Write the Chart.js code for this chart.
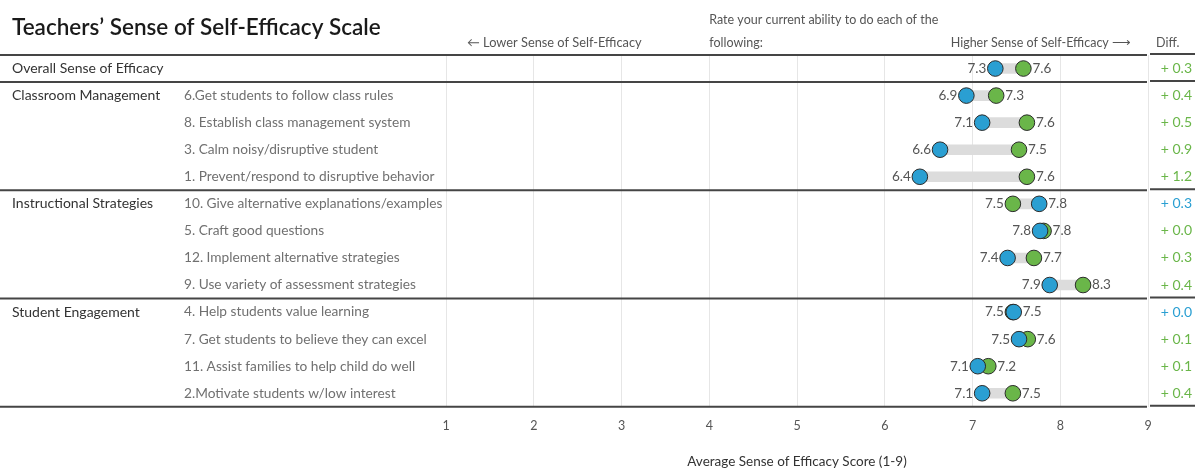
<!DOCTYPE html>
<html>
<head>
<meta charset="utf-8">
<script src="https://cdn.jsdelivr.net/npm/chart.js@4"></script>
<style>
  html, body { margin: 0; padding: 0; background: #fff; }
  #wrap { width: 1195px; height: 470px; position: relative; }
</style>
</head>
<body>
<div id="wrap"><canvas id="c" width="1195" height="470"></canvas></div>
<script>
// ---------- DATA ----------
const rowGroups = [
  'Overall Sense of Efficacy',
  'Classroom Management', 'Classroom Management', 'Classroom Management', 'Classroom Management',
  'Instructional Strategies', 'Instructional Strategies', 'Instructional Strategies', 'Instructional Strategies',
  'Student Engagement', 'Student Engagement', 'Student Engagement', 'Student Engagement'
];
const rowItems = [
  '',
  '6.Get students to follow class rules',
  '8. Establish class management system',
  '3. Calm noisy/disruptive student',
  '1. Prevent/respond to disruptive behavior',
  '10. Give alternative explanations/examples',
  '5. Craft good questions',
  '12. Implement alternative strategies',
  '9. Use variety of assessment strategies',
  '4. Help students value learning',
  '7. Get students to believe they can excel',
  '11. Assist families to help child do well',
  '2.Motivate students w/low interest'
];
// blue series and green series (average score, 1-9)
const blueScores  = [7.26, 6.93, 7.11, 6.63, 6.40, 7.76, 7.77, 7.40, 7.88, 7.47, 7.53, 7.06, 7.11];
const greenScores = [7.58, 7.27, 7.62, 7.53, 7.62, 7.46, 7.81, 7.70, 8.26, 7.46, 7.63, 7.18, 7.46];
const xTicks = [1, 2, 3, 4, 5, 6, 7, 8, 9];

const BLUE = '#2a9fd2';
const GREEN = '#6ab649';
const FONT = 'Lato, "Noto Sans", sans-serif';

const rowIdx = rowItems.map((_, i) => i);
const rangeData = rowIdx.map(i => ({ y: i, x: [Math.min(blueScores[i], greenScores[i]), Math.max(blueScores[i], greenScores[i])] }));
const bluePts = rowIdx.map(i => ({ x: blueScores[i], y: i }));
const greenPts = rowIdx.map(i => ({ x: greenScores[i], y: i }));

const textPlugin = {
  id: 'textPlugin',
  beforeDatasetsDraw(chart) {
    const { ctx, chartArea, scales } = chart;
    const ys = scales.y;
    ctx.save();
    const bounds = [];
    bounds.push(chartArea.top);
    for (let i = 1; i < rowGroups.length; i++) {
      if (rowGroups[i] !== rowGroups[i - 1]) bounds.push((ys.getPixelForValue(i - 1) + ys.getPixelForValue(i)) / 2);
    }
    bounds.push(chartArea.bottom);
    ctx.strokeStyle = '#454545';
    ctx.lineWidth = 2;
    bounds.forEach(b => {
      ctx.beginPath();
      ctx.moveTo(0, b); ctx.lineTo(chartArea.right - 1, b);
      ctx.moveTo(chartArea.right + 2, b - 1); ctx.lineTo(1195, b - 1);
      ctx.stroke();
    });
    ctx.restore();
  },
  afterDatasetsDraw(chart) {
    const { ctx, scales } = chart;
    const xs = scales.x, ys = scales.y;
    ctx.save();
    ctx.textBaseline = 'middle';
    // title
    ctx.fillStyle = '#1a1a1a';
    ctx.font = '600 22.5px ' + FONT;
    ctx.textAlign = 'left';
    ctx.fillText('Teachers’ Sense of Self-Efficacy Scale', 12, 28);
    // header
    ctx.fillStyle = '#555';
    ctx.font = '12.8px ' + FONT;
    ctx.fillText('← Lower Sense of Self-Efficacy', 467, 43);
    ctx.font = '12.5px ' + FONT;
    ctx.fillText('Rate your current ability to do each of the', xs.getPixelForValue(4), 20);
    ctx.fillText('following:', xs.getPixelForValue(4), 43);
    ctx.textAlign = 'right';
    ctx.fillText('Higher Sense of Self-Efficacy ⟶', 1131, 43);
    ctx.textAlign = 'left';
    ctx.fillText('Diff.', 1156, 43);

    for (let i = 0; i < rowItems.length; i++) {
      const y = ys.getPixelForValue(i);
      if (i === 0 || rowGroups[i] !== rowGroups[i - 1]) {
        ctx.fillStyle = '#333';
        ctx.font = '14px ' + FONT;
        ctx.textAlign = 'left';
        ctx.fillText(rowGroups[i], 12, y);
      }
      if (rowItems[i]) {
        ctx.fillStyle = '#707070';
        ctx.font = '13.7px ' + FONT;
        ctx.textAlign = 'left';
        ctx.fillText(rowItems[i], 184, y);
      }
      const b = blueScores[i], g = greenScores[i];
      const lo = Math.min(b, g), hi = Math.max(b, g);
      ctx.fillStyle = '#555';
      ctx.font = '13.5px ' + FONT;
      ctx.textAlign = 'right';
      ctx.fillText(lo.toFixed(1), xs.getPixelForValue(lo) - 9, y);
      ctx.textAlign = 'left';
      ctx.fillText(hi.toFixed(1), xs.getPixelForValue(hi) + 9, y);
      const d = Math.abs(Number(g.toFixed(1)) - Number(b.toFixed(1)));
      ctx.fillStyle = b >= g ? BLUE : GREEN;
      ctx.textAlign = 'right';
      ctx.font = '14px ' + FONT;
      ctx.fillText('+ ' + d.toFixed(1), 1192, y);
    }
    ctx.restore();
  }
};

new Chart(document.getElementById('c'), {
  type: 'scatter',
  data: {
    datasets: [
      { label: 'Blue', data: bluePts, backgroundColor: BLUE, borderColor: '#2b2b2b', borderWidth: 1, pointRadius: 7.8, pointHoverRadius: 7.8 },
      { label: 'Green', data: greenPts, backgroundColor: GREEN, borderColor: '#2b2b2b', borderWidth: 1, pointRadius: 7.8, pointHoverRadius: 7.8 },
      { type: 'bar', label: 'Range', indexAxis: 'y', data: rangeData, backgroundColor: '#dcdcdc', barThickness: 10, borderSkipped: false }
    ]
  },
  options: {
    responsive: false,
    animation: false,
    layout: { padding: { left: 446, right: 47, top: 55, bottom: 0 } },
    plugins: { legend: { display: false }, tooltip: { enabled: false } },
    scales: {
      x: {
        type: 'linear', min: 1, max: 9, offset: false,
        afterBuildTicks: (axis) => { axis.ticks = xTicks.map(v => ({ value: v })); },
        grid: { color: '#e6e6e6', lineWidth: 1, drawTicks: false, offset: false },
        border: { display: false },
        ticks: { color: '#555', font: { family: FONT, size: 12.5 }, padding: 12, maxRotation: 0 },
        title: { display: true, text: 'Average Sense of Efficacy Score (1-9)', color: '#333', font: { family: FONT, size: 13.5 }, padding: { top: 8, bottom: 0 } }
      },
      y: {
        type: 'linear', min: -0.5, max: 12.5, reverse: true, display: false, offset: false,
        grid: { offset: false }
      }
    }
  },
  plugins: [textPlugin]
});
</script>
</body>
</html>
